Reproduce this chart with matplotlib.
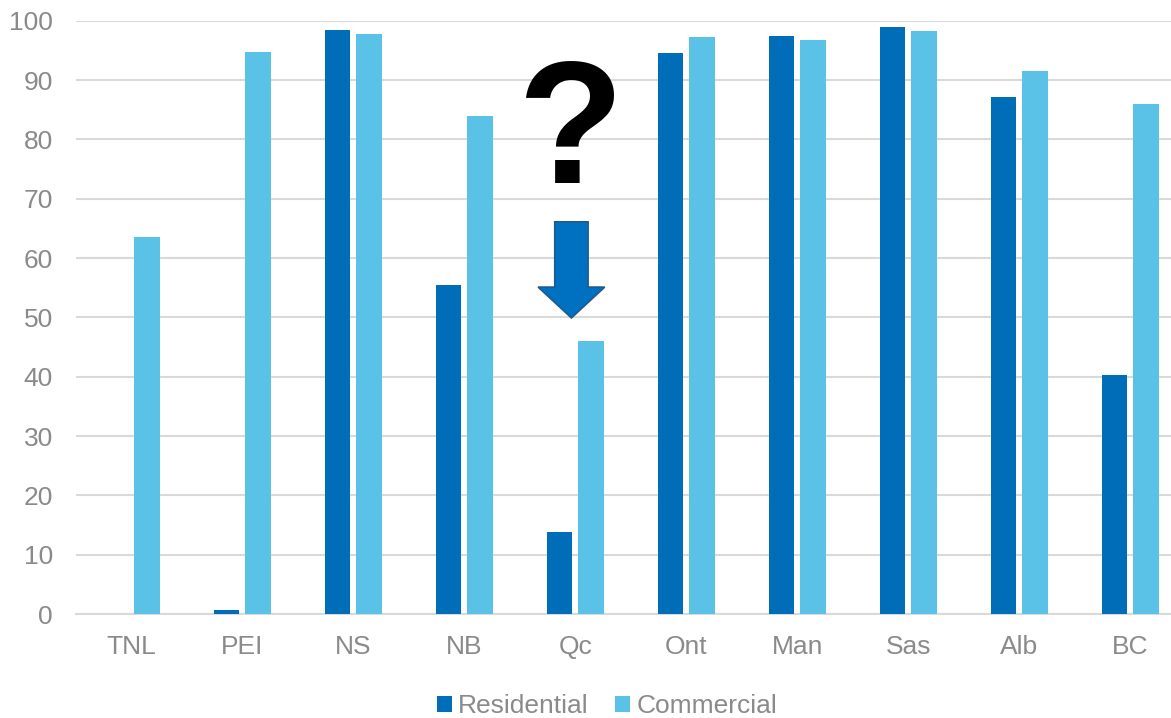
import matplotlib.pyplot as plt
from matplotlib.patches import Polygon
import numpy as np

plt.rcParams['font.family'] = ['Liberation Sans', 'DejaVu Sans']

provinces = ['TNL', 'PEI', 'NS', 'NB', 'Qc', 'Ont', 'Man', 'Sas', 'Alb', 'BC']
residential = [0, 0.6, 98.4, 55.4, 13.9, 94.5, 97.5, 98.9, 87.2, 40.2]
commercial = [63.6, 94.8, 97.7, 83.9, 46.0, 97.3, 96.8, 98.2, 91.6, 85.9]

res_color = '#006DB9'
com_color = '#5BC2E7'
grey_text = '#8A8A8A'

W, H = 1171, 718
fig = plt.figure(figsize=(W / 100, H / 100), dpi=100)
# plot area runs a little past the right edge, like the cropped original
ax = fig.add_axes([75.8 / W, 104 / H, 1110 / W, 593.3 / H])

x = np.arange(len(provinces))
bw = 0.229
off = 0.142
ax.bar(x - off, residential, bw, color=res_color, label='Residential', zorder=3)
ax.bar(x + off, commercial, bw, color=com_color, label='Commercial', zorder=3)

ax.set_xlim(-0.5, len(provinces) - 0.5)
ax.set_ylim(0, 100)
ax.set_yticks(range(0, 101, 10))
ax.set_xticks(x)
ax.set_xticklabels(provinces)

ax.grid(axis='y', color='#D9D9D9', linewidth=1.5, zorder=0)
for s in ['top', 'right', 'left']:
    ax.spines[s].set_visible(False)
ax.spines['bottom'].set_color('#D9D9D9')
ax.spines['bottom'].set_linewidth(1.5)
ax.tick_params(axis='both', length=0, labelsize=19, labelcolor=grey_text)
ax.tick_params(axis='x', pad=15)
ax.tick_params(axis='y', pad=16.5)

# question mark and arrow over Qc
qc = provinces.index('Qc') - 0.035
ax.text(qc - 0.01, 72.6, '?', fontsize=125, fontweight='bold', color='black',
        ha='center', va='baseline', zorder=5)
bw2, hw2 = 0.15, 0.30
arrow = Polygon([(qc - bw2, 66.1), (qc + bw2, 66.1), (qc + bw2, 55.1),
                 (qc + hw2, 55.1), (qc, 49.9), (qc - hw2, 55.1),
                 (qc - bw2, 55.1)], closed=True,
                facecolor='#0070C0', edgecolor='#1F5A8C', linewidth=1.2, zorder=5)
ax.add_patch(arrow)

fig.legend(loc='center', bbox_to_anchor=(607 / W, 1 - 706 / H), ncol=2,
           frameon=False, fontsize=19, labelcolor=grey_text,
           handlelength=0.55, handleheight=0.55, handletextpad=0.25,
           columnspacing=1.0)

fig.savefig('out.png', dpi=100)
